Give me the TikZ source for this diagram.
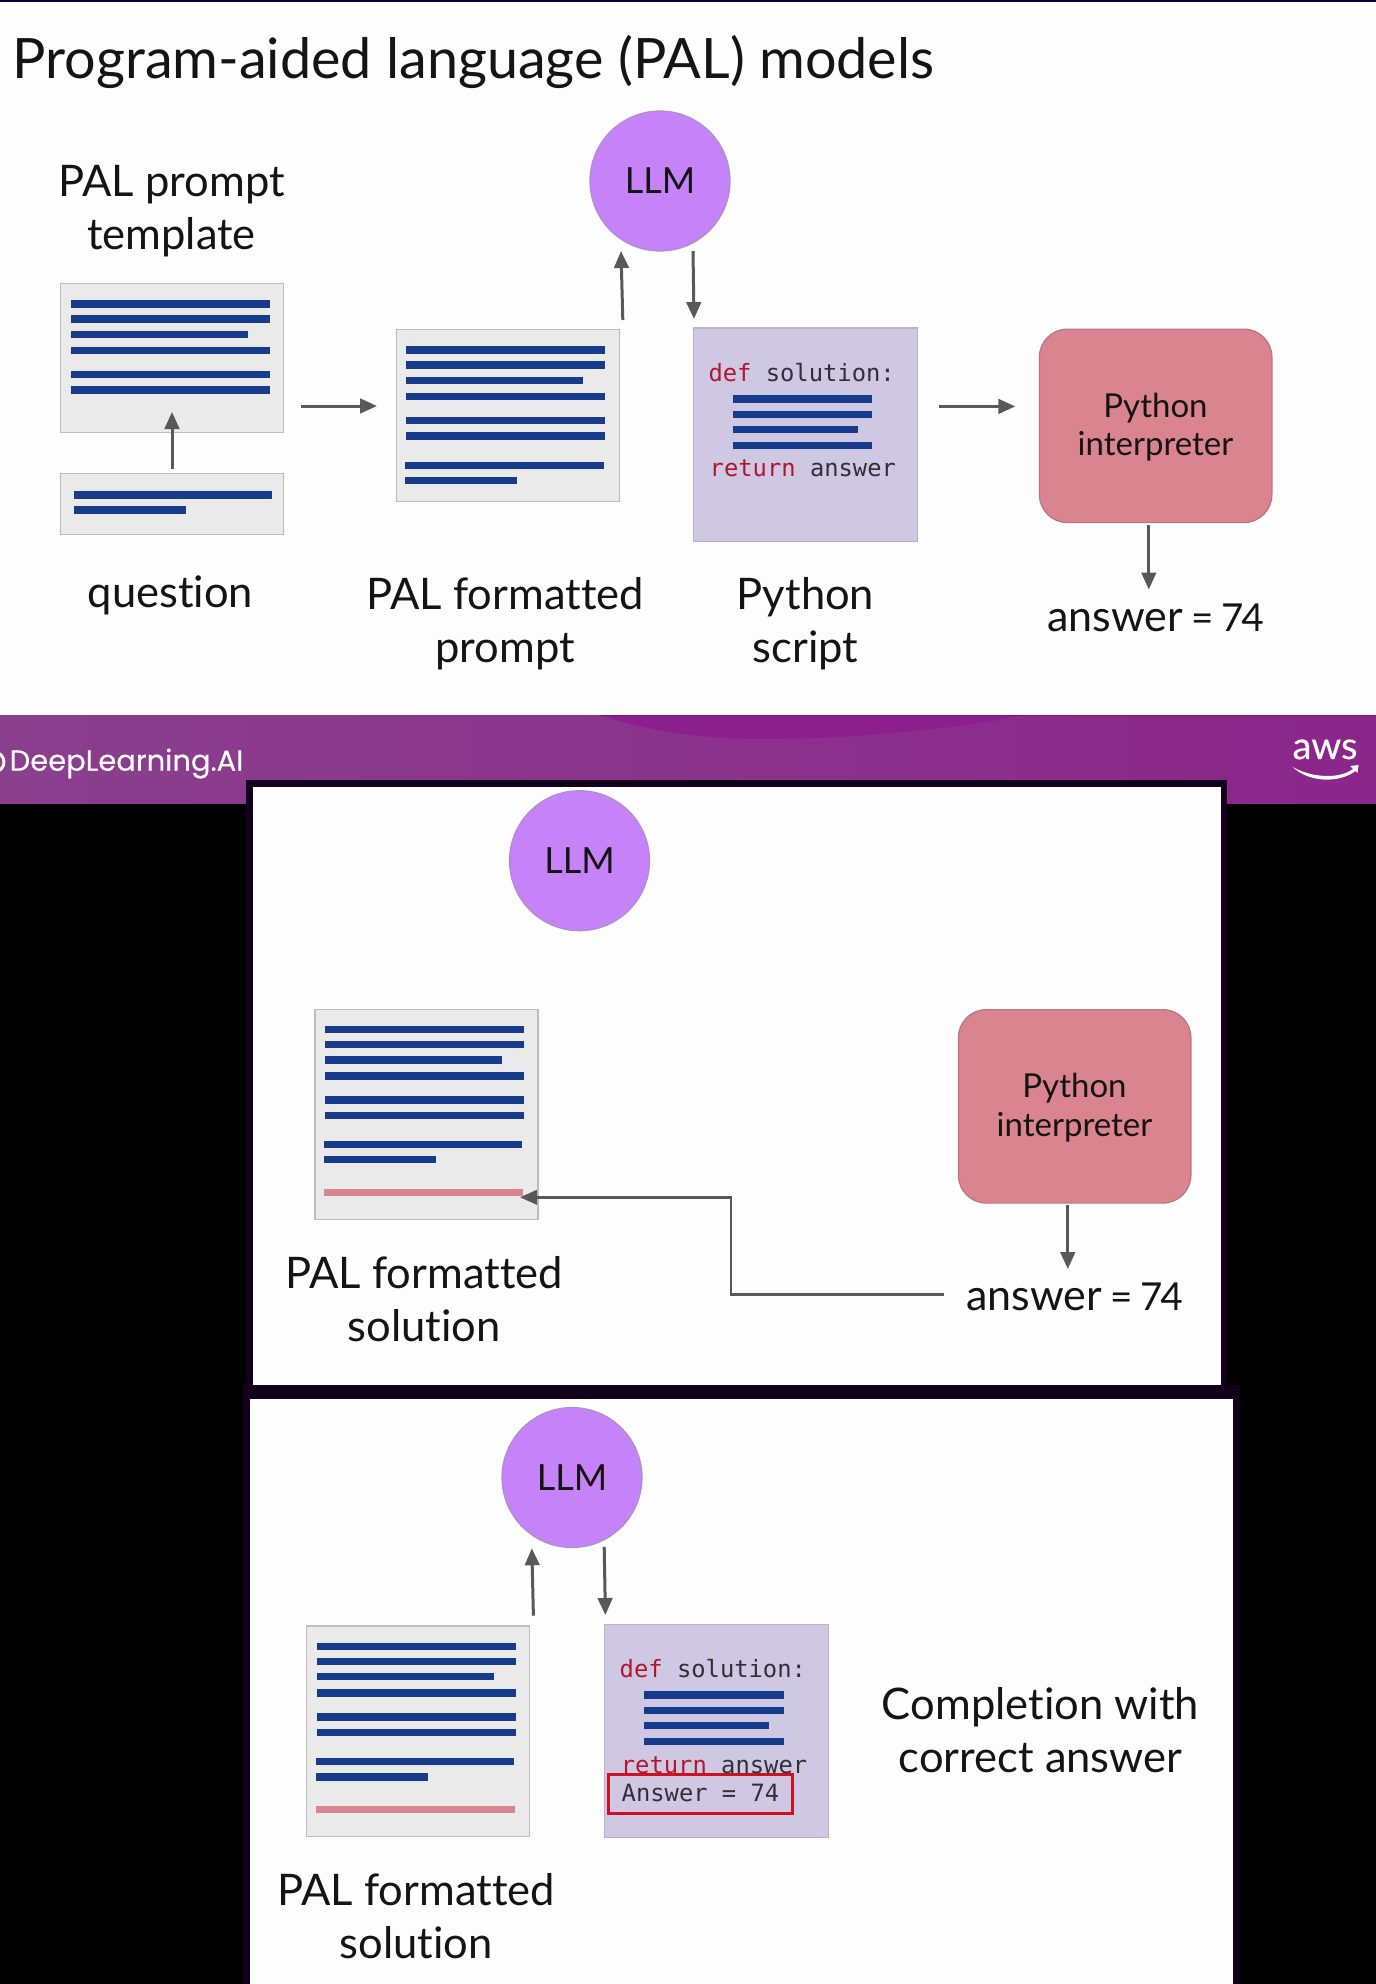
\documentclass[tikz,border=0pt]{standalone}
\usepackage{fontspec}
\usetikzlibrary{arrows.meta,shapes.geometric,calc}
\setmainfont{Lato}[Ligatures=NoCommon,Numbers=Proportional]
\newfontfamily\poppinsf{Poppins}[FakeBold=0.35]
\newfontfamily\monof{DejaVu Sans Mono}
\definecolor{pagebg}{HTML}{FDFDFD}
\definecolor{framec}{HTML}{12001C}
\definecolor{docfill}{HTML}{EAEAEA}
\definecolor{docline}{HTML}{BEBEBE}
\definecolor{barblue}{HTML}{153B8A}
\definecolor{barpink}{HTML}{D9848E}
\definecolor{scriptfill}{HTML}{CFC8E3}
\definecolor{scriptline}{HTML}{B7B2CA}
\definecolor{llmfill}{HTML}{C582F9}
\definecolor{llmline}{HTML}{AE90C8}
\definecolor{interpfill}{HTML}{D9848E}
\definecolor{interpline}{HTML}{B97680}
\definecolor{arrowc}{HTML}{585858}
\definecolor{inkc}{HTML}{141414}
\definecolor{codered}{HTML}{B0162E}
\definecolor{codeink}{HTML}{303038}
\definecolor{redbox}{HTML}{D01020}
\definecolor{bandleft}{HTML}{8A3F8D}
\definecolor{bandright}{HTML}{8B268B}
\definecolor{swoosh}{HTML}{8B208C}
\tikzset{
  x=1pt, y=-1pt,
  docbox/.style={draw=docline, fill=docfill, line width=1.2pt, rectangle, anchor=north west, inner sep=0pt, minimum width=223pt},
  scriptbox/.style={draw=scriptline, fill=scriptfill, line width=1.2pt, rectangle, anchor=north west, inner sep=0pt, minimum width=223.5pt, minimum height=213.7pt},
  interp/.style={draw=interpline, fill=interpfill, line width=1.2pt, rectangle, rounded corners=28pt, anchor=north west, inner sep=0pt, minimum width=232.5pt, minimum height=193.5pt},
  llm/.style={draw=llmline, fill=llmfill, line width=1.2pt, circle, inner sep=0pt, minimum size=140pt, text=inkc, font=\fontsize{36}{40}\selectfont},
  lbl/.style={font=\fontsize{43.5}{53}\selectfont, align=center, text=inkc, anchor=base, inner sep=0pt},
  anstext/.style={font=\fontsize{43}{53}\selectfont, text=inkc, anchor=base, inner sep=0pt},
  small/.style={font=\fontsize{33}{38.5}\selectfont, align=center, text=inkc, anchor=base, inner sep=0pt},
  code/.style={font=\monof\fontsize{23.8}{28}\selectfont, text=codeink, anchor=base west, inner sep=0pt},
  bar/.style={line width=7.5pt, draw=barblue},
  pinkbar/.style={line width=7.5pt, draw=barpink},
  arr/.style={draw=arrowc, line width=3pt, -{Triangle[length=17pt,width=14.5pt]}},
}
\newcommand{\sixbars}{%
  \foreach \yy in {21,36,67.5,91.7,107}{\draw[bar] (10.5,\yy) -- (209.5,\yy);}
  \draw[bar] (10.5,51.3) -- (187.5,51.3);}
\newcommand{\scriptcontent}{%
  \foreach \yy in {71.7,87,118}{\draw[bar] (39.7,\yy) -- (179.4,\yy);}
  \draw[bar] (39.7,102) -- (164.7,102);
  \node[code] at (15.3,53.7) {\textcolor{codered}{def} solution:};
  \node[code] at (16.5,149.6) {\textcolor{codered}{return} answer};}
\newcommand{\anstxt}{answer\hspace{9pt}{\fontsize{38.5}{53}\selectfont =\hspace{8pt}74}}
\begin{document}
\begin{tikzpicture}
\useasboundingbox (0,0) rectangle (1376,1984);
% page
\fill[pagebg] (0,0) rectangle (1376,1984);
\fill[framec!70!blue!60!black] (0,0) rectangle (1376,2);
% band
\shade[left color=bandleft, right color=bandright] (0,715) rectangle (1376,804);
\fill[swoosh] (600,715) .. controls (660,735) and (720,739) .. (760,739) .. controls (860,739) and (960,728) .. (1027,715) -- cycle;
\draw[swoosh!85!black, line width=1pt] (600,715.5) -- (1376,715.5);
% black areas
\fill[black] (0,804) rectangle (1376,1984);
\fill[framec] (246,780) rectangle (1227,1400);
\fill[framec] (243,1385) rectangle (1240,1984);
\fill[pagebg] (253,787) rectangle (1220.5,1384.7);
\fill[pagebg] (250,1399) rectangle (1233,1984);
% footer marks
\begin{scope}
\clip (0,745) rectangle (6,780);
\draw[white!90!pink, line width=3pt] (-6,762) circle [radius=10];
\end{scope}
\node[font=\poppinsf\fontsize{29}{34}\selectfont, text=white!92!pink, anchor=base west, inner sep=0pt] (dl) at (9.5,770.7) {DeepLearning.AI};
\node[font=\addfontfeature{FakeBold=0.3}\fontsize{38}{40}\selectfont, text=white!95!pink, anchor=base, inner sep=0pt] (awsmark) at (1325,759) {aws};
\fill[white!95!pink] (1292.7,767) .. controls (1310,777) and (1338,780) .. (1353,769) -- (1350,766) -- (1358.5,765) -- (1357.5,773) -- (1355.5,771) .. controls (1338,784) and (1308,782) .. (1292.7,767) -- cycle;

% ---------- panel 1 ----------
\node[anchor=base west, inner sep=0pt, text=inkc, font=\fontsize{55.7}{60}\selectfont] (title) at (12.5,78) {Program-aided language (PAL) models};
\node[lbl] (ltemplate) at (171.5,249) {PAL prompt\\template};
\node[docbox, minimum height=149pt] (template) at (60,283) {};
\begin{scope}[shift={(60,283)}]\sixbars\end{scope}
\node[docbox, minimum height=60.5pt] (question) at (60,473) {};
\draw[bar] (74,495) -- (272,495);
\draw[bar] (74,510) -- (186,510);
\node[lbl] (lquestion) at (170.5,607.5) {question};
\node[docbox, minimum height=172pt] (prompt) at (395.5,329) {};
\begin{scope}[shift={(395.5,329)}]\sixbars
  \draw[bar] (9.5,136.6) -- (208,136.6);
  \draw[bar] (9.5,151.7) -- (121.5,151.7);
\end{scope}
\node[lbl] (lprompt) at (505,662) {PAL formatted\\prompt};
\node[llm] (llma) at (660,181) {LLM};
\node[scriptbox] (script) at (693,327.3) {};
\begin{scope}[shift={(693,327.3)}]\scriptcontent\end{scope}
\node[lbl] (lscript) at (805.5,662) {Python\\script};
\node[interp] (pya) at (1038.8,328.5) {};
\node[small] (pyat) at (1155.5,455.5) {Python\\interpreter};
\node[anstext] (ansa) at (1155.5,631) {\anstxt};
\coordinate (qa) at (172,469); \coordinate (qb) at (172,412);
\coordinate (ta) at (301,406); \coordinate (tb) at (377,406);
\coordinate (pa) at (622.8,320); \coordinate (pb) at (621,251);
\coordinate (la) at (693,251); \coordinate (lb) at (694,319);
\coordinate (sa) at (939.4,406.4); \coordinate (sb) at (1015.3,406.4);
\coordinate (ya) at (1148.8,525.4); \coordinate (yb) at (1148.8,589.5);
\draw[arr] (qa) -- (qb);
\draw[arr] (ta) -- (tb);
\draw[arr] (pa) -- (pb);
\draw[arr] (la) -- (lb);
\draw[arr] (sa) -- (sb);
\draw[arr] (ya) -- (yb);

% ---------- panel 2 ----------
\node[llm] (llmb) at (579.5,860.7) {LLM};
\node[docbox, minimum height=210.3pt] (solb) at (314.3,1008.5) {};
\begin{scope}[shift={(314.3,1008.5)}]\sixbars
  \draw[bar] (9.5,136) -- (208,136);
  \draw[bar] (9.5,151) -- (121.5,151);
  \draw[pinkbar] (9.5,184) -- (208.5,184);
\end{scope}
\node[lbl] (lsolb) at (424,1341) {PAL formatted\\solution};
\node[interp] (pyb) at (957.8,1009) {};
\node[small] (pybt) at (1074.5,1136) {Python\\interpreter};
\node[anstext] (ansb) at (1074.5,1310.5) {\anstxt};
\coordinate (yc) at (1067.8,1205); \coordinate (yd) at (1067.8,1269);
\coordinate (wa) at (944,1294.3); \coordinate (wb) at (731,1294.3); \coordinate (wc) at (731,1197.3); \coordinate (wd) at (520,1197.3);
\draw[arr] (yc) -- (yd);
\draw[arr, line width=2.6pt] (wa) -- (wb) -- (wc) -- (wd);

% ---------- panel 3 ----------
\node[llm] (llmc) at (572,1477.5) {LLM};
\node[docbox, minimum height=210.6pt] (solc) at (306,1625.4) {};
\begin{scope}[shift={(306,1625.4)}]\sixbars
  \draw[bar] (9.5,136.3) -- (208,136.3);
  \draw[bar] (9.5,151.4) -- (121.5,151.4);
  \draw[pinkbar] (10,184.1) -- (208.8,184.1);
\end{scope}
\node[lbl] (lsolc) at (416,1958) {PAL formatted\\solution};
\node[scriptbox] (scriptc) at (604.2,1623.5) {};
\begin{scope}[shift={(604.2,1623.5)}]\scriptcontent\end{scope}
\node[draw=redbox, line width=2.6pt, rectangle, inner sep=0pt, minimum width=183.5pt, minimum height=39pt, text depth=3pt, text height=17pt, font=\monof\fontsize{23.8}{28}\selectfont, text=codeink] (ansbox) at (700.5,1794) {Answer = 74\hspace{5pt}};
\node[lbl] (lcomp) at (1040.5,1772) {Completion with\\correct answer};
\coordinate (pc) at (533.4,1615.7); \coordinate (pd) at (531.8,1548.3);
\coordinate (lc) at (604.2,1546.8); \coordinate (ld) at (605.4,1615);
\draw[arr] (pc) -- (pd);
\draw[arr] (lc) -- (ld);
\end{tikzpicture}
\end{document}
